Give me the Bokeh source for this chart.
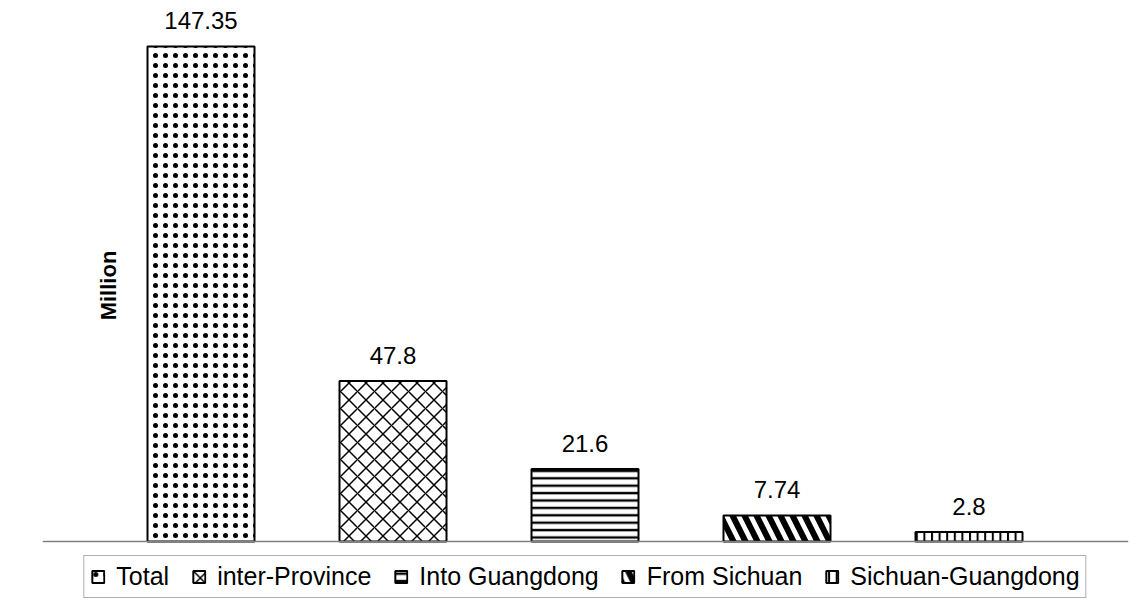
from math import pi

from bokeh.core.properties import value
from bokeh.embed import file_html
from bokeh.models import (ColumnDataSource, Label, LabelSet, Legend,
                          LegendItem, Range1d, Span)
from bokeh.plotting import figure
from bokeh.resources import INLINE

# --- data -------------------------------------------------------------
categories = ["Total", "inter-Province", "Into Guangdong",
              "From Sichuan", "Sichuan-Guangdong"]
values = [147.35, 47.8, 21.6, 7.74, 2.8]
value_labels = ["147.35", "47.8", "21.6", "7.74", "2.8"]
y_title = "Million"

# --- styling per bar --------------------------------------------------
hatches = [".", "x", "-", "\\", "|"]
hatch_scales = [10, 17, 7.4, 24, 7.6]
hatch_weights = [1.2, 1.5, 2.4, 6.0, 2.0]

FONT = "Liberation Sans"

# layout: pixels per category slot and per million
slot_px = 192.0
px_per_unit = 3.36
frame_left, frame_right = 42, 1128
first_center_px = 200.5
baseline_px = 541
canvas_h = 603

x_start = (frame_left - first_center_px) / slot_px
x_end = (frame_right - first_center_px) / slot_px
y_start = -(canvas_h - baseline_px) / px_per_unit
y_end = baseline_px / px_per_unit

source = ColumnDataSource(dict(
    x=list(range(len(categories))),
    top=values,
    label=value_labels,
    name=categories,
    hatch=hatches,
    hscale=hatch_scales,
    hweight=hatch_weights,
))

p = figure(width=1130, height=canvas_h,
           x_range=Range1d(x_start, x_end), y_range=Range1d(y_start, y_end),
           output_backend="svg", toolbar_location=None,
           min_border_left=frame_left, min_border_right=1130 - frame_right,
           min_border_top=0, min_border_bottom=0)
p.axis.visible = False
p.grid.visible = False
p.outline_line_color = None
p.background_fill_color = "white"
p.border_fill_color = "white"

bars = p.vbar(x="x", top="top", bottom=0, width=107 / slot_px, source=source,
              fill_color="white", line_color="black", line_width=2,
              hatch_pattern="hatch", hatch_scale="hscale",
              hatch_weight="hweight", hatch_color="black")

# category baseline
p.add_layout(Span(location=0, dimension="width", line_color="#808080",
                  line_width=1.5))

labels = LabelSet(x="x", y="top", text="label", source=source,
                  text_align="center", text_baseline="alphabetic",
                  y_offset=17, text_font=value(FONT),
                  text_font_size="24px", text_color="black")
p.add_layout(labels)

p.add_layout(Label(x=(108 - first_center_px) / slot_px,
                   y=(baseline_px - 285) / px_per_unit,
                   text=y_title, angle=pi / 2, text_align="center",
                   text_baseline="middle", text_font=FONT,
                   text_font_style="bold", text_font_size="22px",
                   text_color="black"))

items = [LegendItem(label=c, renderers=[bars], index=i)
         for i, c in enumerate(categories)]
legend = Legend(items=items, orientation="horizontal",
                location="bottom_center", margin=5, padding=6,
                spacing=22, label_standoff=11,
                glyph_width=15, glyph_height=15,
                label_text_font=FONT, label_text_font_size="25px",
                label_text_color="black",
                border_line_color="#606060", border_line_width=1.5,
                background_fill_color="white", background_fill_alpha=1.0)
p.add_layout(legend)

open("out.html", "w").write(file_html(p, INLINE))
